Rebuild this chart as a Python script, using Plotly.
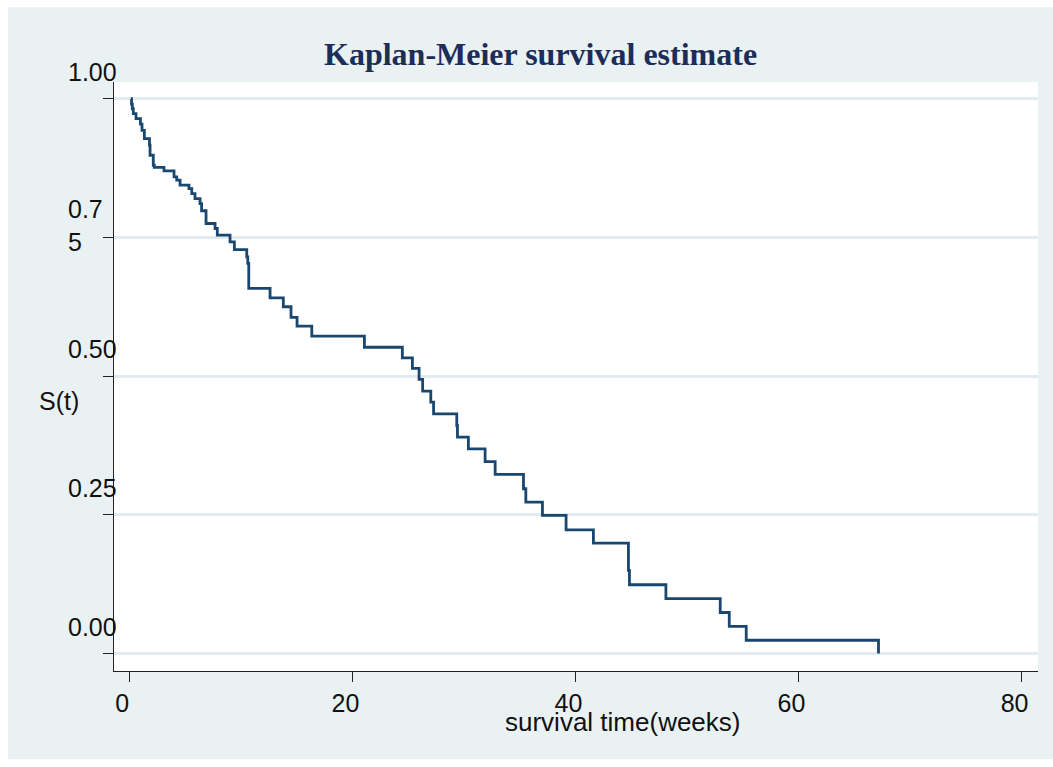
import plotly.graph_objects as go

# ---- data ----
time_weeks = [0.15, 0.20, 0.27, 0.36, 0.60, 1.00, 1.14, 1.35, 1.81, 1.86, 2.15, 2.24,
              3.11, 4.01, 4.25, 4.55, 5.35, 5.60, 5.89, 6.34, 6.48, 6.88, 7.69, 7.89,
              9.03, 9.42, 10.53, 10.62, 10.71, 12.62, 13.81, 14.50, 15.04, 16.36, 21.08,
              24.48, 25.38, 25.98, 26.30, 27.03, 27.28, 29.36, 29.42, 30.40, 31.90, 32.80,
              35.34, 35.55, 37.04, 39.16, 41.61, 44.75, 44.84, 48.11, 52.98, 53.79, 55.31,
              67.17]
survival = [1.000, 0.990, 0.982, 0.973, 0.964, 0.954, 0.943, 0.928, 0.916, 0.898, 0.880, 0.876,
            0.870, 0.859, 0.853, 0.844, 0.838, 0.829, 0.820, 0.811, 0.798, 0.775, 0.766, 0.754,
            0.742, 0.728, 0.715, 0.703, 0.658, 0.641, 0.625, 0.606, 0.590, 0.572, 0.552,
            0.533, 0.514, 0.494, 0.473, 0.453, 0.432, 0.411, 0.390, 0.369, 0.346, 0.323,
            0.297, 0.273, 0.249, 0.223, 0.199, 0.150, 0.124, 0.099, 0.074, 0.049, 0.024,
            0.000]
y_tick_vals = [0.0, 0.25, 0.5, 0.75, 1.0]
y_tick_text = ["0.00", "0.25", "0.50", "0.7<br>5", "1.00"]
x_tick_vals = [0, 20, 40, 60, 80]
x_tick_text = ["0", "20", "40", "60", "80"]
title_text = "Kaplan-Meier survival estimate"
x_title = "survival time(weeks)"
y_title = "S(t)"

# ---- layout geometry (pixels) ----
W, H = 1053, 767
PL, PR, PT, PB = 114, 1037.7, 81.7, 670.7

def px2x(px):
    return (px - PL) / (PR - PL)

def py2y(py):
    return (PB - py) / (PB - PT)

PANEL = "#EAF1F3"
GRID = "#E2EBEF"
LINE = "#1A476F"
TXT = "#111111"
SANS = "Liberation Sans, Arial, sans-serif"

fig = go.Figure()
fig.add_trace(go.Scatter(x=time_weeks, y=survival, mode="lines", line_shape="hv",
                         line=dict(color=LINE, width=2.8), hoverinfo="x+y",
                         showlegend=False))

annotations = []
for v, t in zip(y_tick_vals, y_tick_text):
    shift = 11.5 if "<br>" in t else 27
    annotations.append(dict(x=px2x(66), xref="paper", y=v, yref="y", text=t,
                            showarrow=False, xanchor="left", yanchor="middle",
                            align="left", yshift=shift,
                            font=dict(family=SANS, size=25, color=TXT)))
annotations.append(dict(x=px2x(37), xref="paper", y=py2y(401), yref="paper",
                        text=y_title, showarrow=False, xanchor="left", yanchor="middle",
                        font=dict(family=SANS, size=25, color=TXT)))
annotations.append(dict(x=px2x(623), xref="paper", y=py2y(722), yref="paper",
                        text=x_title, showarrow=False, xanchor="center", yanchor="middle",
                        font=dict(family=SANS, size=26, color=TXT)))
annotations.append(dict(x=px2x(540), xref="paper", y=py2y(54), yref="paper",
                        text="<b>" + title_text + "</b>", showarrow=False,
                        xanchor="center", yanchor="middle",
                        font=dict(family="Liberation Serif, Times New Roman, serif",
                                  size=32, color="#1E2D57")))

shapes = [
    dict(type="rect", xref="paper", yref="paper", x0=px2x(-2), x1=px2x(8),
         y0=py2y(770), y1=py2y(-3), fillcolor="white", line=dict(width=0), layer="above"),
    dict(type="rect", xref="paper", yref="paper", x0=px2x(-2), x1=px2x(1056),
         y0=py2y(7), y1=py2y(-3), fillcolor="white", line=dict(width=0), layer="above"),
    dict(type="rect", xref="paper", yref="paper", x0=px2x(-2), x1=px2x(1056),
         y0=py2y(770), y1=py2y(759), fillcolor="white", line=dict(width=0), layer="above"),
]

fig.update_layout(
    width=W, height=H,
    margin=dict(l=PL, r=W - PR, t=PT, b=H - PB, pad=0),
    paper_bgcolor=PANEL, plot_bgcolor="white",
    annotations=annotations, shapes=shapes,
    xaxis=dict(range=[-1.372, 81.47], tickvals=x_tick_vals, ticktext=x_tick_text,
               showgrid=False, zeroline=False, showline=True, linecolor="#222",
               linewidth=1.3, ticks="outside", ticklen=10, tickwidth=1.3,
               tickcolor="#222", ticklabelshift=-7,
               tickfont=dict(family=SANS, size=25, color=TXT)),
    yaxis=dict(range=[-0.0314, 1.030], tickvals=y_tick_vals, showticklabels=False,
               showgrid=True, gridcolor=GRID, gridwidth=2.5, zeroline=False,
               showline=True, linecolor="#222", linewidth=1.3, ticks="outside",
               ticklen=10, tickwidth=1.3, tickcolor="#222"),
)

fig.write_html("out.html")
